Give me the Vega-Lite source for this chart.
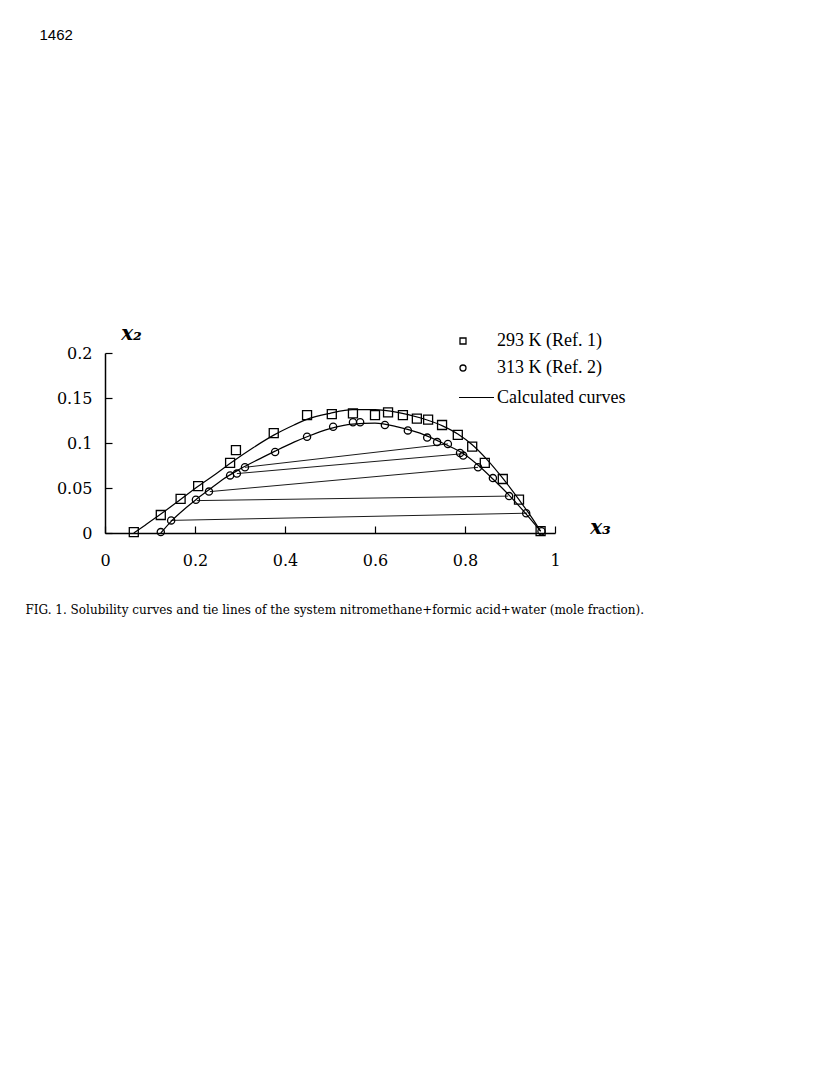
{
  "$schema": "https://vega.github.io/schema/vega-lite/v6.json",
  "width": 450,
  "height": 180,
  "autosize": {"type": "none"},
  "padding": {"left": 105, "top": 353, "right": 273, "bottom": 534},
  "background": "white",
  "datasets": {
    "curves": [
      {"x3": 0.064, "x2": 0.0, "T": "293 K", "kind": "Calculated curves"},
      {"x3": 0.09, "x2": 0.009, "T": "293 K", "kind": "Calculated curves"},
      {"x3": 0.124, "x2": 0.021, "T": "293 K", "kind": "Calculated curves"},
      {"x3": 0.167, "x2": 0.037, "T": "293 K", "kind": "Calculated curves"},
      {"x3": 0.207, "x2": 0.052, "T": "293 K", "kind": "Calculated curves"},
      {"x3": 0.25, "x2": 0.067, "T": "293 K", "kind": "Calculated curves"},
      {"x3": 0.28, "x2": 0.078, "T": "293 K", "kind": "Calculated curves"},
      {"x3": 0.33, "x2": 0.095, "T": "293 K", "kind": "Calculated curves"},
      {"x3": 0.376, "x2": 0.109, "T": "293 K", "kind": "Calculated curves"},
      {"x3": 0.42, "x2": 0.12, "T": "293 K", "kind": "Calculated curves"},
      {"x3": 0.447, "x2": 0.126, "T": "293 K", "kind": "Calculated curves"},
      {"x3": 0.5, "x2": 0.133, "T": "293 K", "kind": "Calculated curves"},
      {"x3": 0.55, "x2": 0.137, "T": "293 K", "kind": "Calculated curves"},
      {"x3": 0.6, "x2": 0.137, "T": "293 K", "kind": "Calculated curves"},
      {"x3": 0.65, "x2": 0.134, "T": "293 K", "kind": "Calculated curves"},
      {"x3": 0.7, "x2": 0.128, "T": "293 K", "kind": "Calculated curves"},
      {"x3": 0.75, "x2": 0.119, "T": "293 K", "kind": "Calculated curves"},
      {"x3": 0.784, "x2": 0.11, "T": "293 K", "kind": "Calculated curves"},
      {"x3": 0.816, "x2": 0.098, "T": "293 K", "kind": "Calculated curves"},
      {"x3": 0.85, "x2": 0.081, "T": "293 K", "kind": "Calculated curves"},
      {"x3": 0.882, "x2": 0.062, "T": "293 K", "kind": "Calculated curves"},
      {"x3": 0.92, "x2": 0.037, "T": "293 K", "kind": "Calculated curves"},
      {"x3": 0.95, "x2": 0.016, "T": "293 K", "kind": "Calculated curves"},
      {"x3": 0.968, "x2": 0.002, "T": "293 K", "kind": "Calculated curves"},
      {"x3": 0.124, "x2": 0.0, "T": "313 K", "kind": "Calculated curves"},
      {"x3": 0.147, "x2": 0.013, "T": "313 K", "kind": "Calculated curves"},
      {"x3": 0.18, "x2": 0.028, "T": "313 K", "kind": "Calculated curves"},
      {"x3": 0.202, "x2": 0.037, "T": "313 K", "kind": "Calculated curves"},
      {"x3": 0.231, "x2": 0.048, "T": "313 K", "kind": "Calculated curves"},
      {"x3": 0.26, "x2": 0.059, "T": "313 K", "kind": "Calculated curves"},
      {"x3": 0.3, "x2": 0.071, "T": "313 K", "kind": "Calculated curves"},
      {"x3": 0.35, "x2": 0.084, "T": "313 K", "kind": "Calculated curves"},
      {"x3": 0.378, "x2": 0.091, "T": "313 K", "kind": "Calculated curves"},
      {"x3": 0.42, "x2": 0.101, "T": "313 K", "kind": "Calculated curves"},
      {"x3": 0.449, "x2": 0.107, "T": "313 K", "kind": "Calculated curves"},
      {"x3": 0.5, "x2": 0.116, "T": "313 K", "kind": "Calculated curves"},
      {"x3": 0.55, "x2": 0.121, "T": "313 K", "kind": "Calculated curves"},
      {"x3": 0.6, "x2": 0.122, "T": "313 K", "kind": "Calculated curves"},
      {"x3": 0.65, "x2": 0.118, "T": "313 K", "kind": "Calculated curves"},
      {"x3": 0.7, "x2": 0.111, "T": "313 K", "kind": "Calculated curves"},
      {"x3": 0.75, "x2": 0.1, "T": "313 K", "kind": "Calculated curves"},
      {"x3": 0.8, "x2": 0.087, "T": "313 K", "kind": "Calculated curves"},
      {"x3": 0.83, "x2": 0.075, "T": "313 K", "kind": "Calculated curves"},
      {"x3": 0.862, "x2": 0.06, "T": "313 K", "kind": "Calculated curves"},
      {"x3": 0.9, "x2": 0.041, "T": "313 K", "kind": "Calculated curves"},
      {"x3": 0.936, "x2": 0.021, "T": "313 K", "kind": "Calculated curves"},
      {"x3": 0.968, "x2": 0.002, "T": "313 K", "kind": "Calculated curves"}
    ],
    "points": [
      {"x3": 0.064, "x2": 0.001, "series": "293 K (Ref. 1)"},
      {"x3": 0.124, "x2": 0.02, "series": "293 K (Ref. 1)"},
      {"x3": 0.168, "x2": 0.038, "series": "293 K (Ref. 1)"},
      {"x3": 0.207, "x2": 0.052, "series": "293 K (Ref. 1)"},
      {"x3": 0.278, "x2": 0.078, "series": "293 K (Ref. 1)"},
      {"x3": 0.291, "x2": 0.092, "series": "293 K (Ref. 1)"},
      {"x3": 0.375, "x2": 0.111, "series": "293 K (Ref. 1)"},
      {"x3": 0.449, "x2": 0.131, "series": "293 K (Ref. 1)"},
      {"x3": 0.504, "x2": 0.132, "series": "293 K (Ref. 1)"},
      {"x3": 0.551, "x2": 0.133, "series": "293 K (Ref. 1)"},
      {"x3": 0.6, "x2": 0.131, "series": "293 K (Ref. 1)"},
      {"x3": 0.629, "x2": 0.134, "series": "293 K (Ref. 1)"},
      {"x3": 0.662, "x2": 0.131, "series": "293 K (Ref. 1)"},
      {"x3": 0.693, "x2": 0.127, "series": "293 K (Ref. 1)"},
      {"x3": 0.718, "x2": 0.126, "series": "293 K (Ref. 1)"},
      {"x3": 0.749, "x2": 0.12, "series": "293 K (Ref. 1)"},
      {"x3": 0.784, "x2": 0.109, "series": "293 K (Ref. 1)"},
      {"x3": 0.816, "x2": 0.096, "series": "293 K (Ref. 1)"},
      {"x3": 0.844, "x2": 0.078, "series": "293 K (Ref. 1)"},
      {"x3": 0.884, "x2": 0.06, "series": "293 K (Ref. 1)"},
      {"x3": 0.92, "x2": 0.037, "series": "293 K (Ref. 1)"},
      {"x3": 0.968, "x2": 0.002, "series": "293 K (Ref. 1)"},
      {"x3": 0.124, "x2": 0.001, "series": "313 K (Ref. 2)"},
      {"x3": 0.147, "x2": 0.014, "series": "313 K (Ref. 2)"},
      {"x3": 0.202, "x2": 0.037, "series": "313 K (Ref. 2)"},
      {"x3": 0.231, "x2": 0.046, "series": "313 K (Ref. 2)"},
      {"x3": 0.278, "x2": 0.064, "series": "313 K (Ref. 2)"},
      {"x3": 0.293, "x2": 0.066, "series": "313 K (Ref. 2)"},
      {"x3": 0.311, "x2": 0.073, "series": "313 K (Ref. 2)"},
      {"x3": 0.378, "x2": 0.09, "series": "313 K (Ref. 2)"},
      {"x3": 0.449, "x2": 0.107, "series": "313 K (Ref. 2)"},
      {"x3": 0.507, "x2": 0.118, "series": "313 K (Ref. 2)"},
      {"x3": 0.551, "x2": 0.123, "series": "313 K (Ref. 2)"},
      {"x3": 0.567, "x2": 0.123, "series": "313 K (Ref. 2)"},
      {"x3": 0.622, "x2": 0.12, "series": "313 K (Ref. 2)"},
      {"x3": 0.673, "x2": 0.114, "series": "313 K (Ref. 2)"},
      {"x3": 0.716, "x2": 0.106, "series": "313 K (Ref. 2)"},
      {"x3": 0.738, "x2": 0.101, "series": "313 K (Ref. 2)"},
      {"x3": 0.762, "x2": 0.099, "series": "313 K (Ref. 2)"},
      {"x3": 0.789, "x2": 0.089, "series": "313 K (Ref. 2)"},
      {"x3": 0.796, "x2": 0.086, "series": "313 K (Ref. 2)"},
      {"x3": 0.829, "x2": 0.073, "series": "313 K (Ref. 2)"},
      {"x3": 0.862, "x2": 0.061, "series": "313 K (Ref. 2)"},
      {"x3": 0.898, "x2": 0.041, "series": "313 K (Ref. 2)"},
      {"x3": 0.936, "x2": 0.022, "series": "313 K (Ref. 2)"},
      {"x3": 0.97, "x2": 0.002, "series": "313 K (Ref. 2)"}
    ],
    "ties": [
      {"x3_a": 0.311, "x2_a": 0.073, "x3_b": 0.762, "x2_b": 0.099},
      {"x3_a": 0.293, "x2_a": 0.066, "x3_b": 0.793, "x2_b": 0.088},
      {"x3_a": 0.233, "x2_a": 0.046, "x3_b": 0.829, "x2_b": 0.073},
      {"x3_a": 0.204, "x2_a": 0.036, "x3_b": 0.896, "x2_b": 0.041},
      {"x3_a": 0.146, "x2_a": 0.014, "x3_b": 0.938, "x2_b": 0.022}
    ]
  },
  "layer": [
    {
      "layer": [
        {
          "data": {"name": "curves"},
          "mark": {"type": "line", "interpolate": "monotone", "strokeWidth": 1.2},
          "encoding": {
            "x": {
              "field": "x3", "type": "quantitative",
              "scale": {"domain": [0, 1], "nice": false, "zero": false},
              "axis": {
                "values": [0, 0.2, 0.4, 0.6, 0.8, 1], "format": "~g", "grid": false,
                "labelFont": "DejaVu Serif", "labelFontSize": 16, "labelColor": "black",
                "labelFlush": false,
                "labelPadding": 26, "tickSize": -7, "tickWidth": 1.2, "tickColor": "black",
                "domainColor": "black", "domainWidth": 1.5,
                "title": "x₃", "titleFont": "DejaVu Serif", "titleFontStyle": "italic",
                "titleFontWeight": "bold", "titleFontSize": 20, "titleColor": "black",
                "titleAngle": 0, "titleX": 495, "titleY": -6, "titleAlign": "center",
                "titleBaseline": "middle"
              }
            },
            "y": {
              "field": "x2", "type": "quantitative",
              "scale": {"domain": [0, 0.2], "nice": false, "zero": false},
              "axis": {
                "values": [0, 0.05, 0.1, 0.15, 0.2], "format": "~g", "grid": false,
                "labelFont": "DejaVu Serif", "labelFontSize": 16, "labelColor": "black",
                "labelFlush": false,
                "labelPadding": 20, "tickSize": -7, "tickWidth": 1.2, "tickColor": "black",
                "domainColor": "black", "domainWidth": 1.5,
                "title": "x₂", "titleFont": "DejaVu Serif", "titleFontStyle": "italic",
                "titleFontWeight": "bold", "titleFontSize": 20, "titleColor": "black",
                "titleAngle": 0, "titleX": 26, "titleY": -20, "titleAlign": "center",
                "titleBaseline": "middle"
              }
            },
            "detail": {"field": "T", "type": "nominal"},
            "color": {
              "field": "kind", "type": "nominal",
              "scale": {"range": ["black"]},
              "legend": {
                "title": null, "orient": "none", "legendX": 353, "legendY": 26,
                "symbolType": "stroke", "symbolSize": 1225, "symbolStrokeWidth": 1.2,
                "labelFont": "Liberation Serif", "labelFontSize": 18, "labelColor": "black",
                "labelOffset": 2, "padding": 0
              }
            }
          }
        },
        {
          "data": {"name": "points"},
          "transform": [{"filter": "datum.series === '293 K (Ref. 1)'"}],
          "mark": {"type": "point", "filled": false, "color": "black", "strokeWidth": 1.3, "opacity": 1, "size": 81},
          "encoding": {
            "x": {"field": "x3", "type": "quantitative"},
            "y": {"field": "x2", "type": "quantitative"},
            "shape": {
              "field": "series", "type": "nominal",
              "scale": {"domain": ["293 K (Ref. 1)", "313 K (Ref. 2)"], "range": ["square", "circle"]},
              "legend": {
                "title": null, "orient": "none", "legendX": 349, "legendY": -21,
                "symbolSize": 36, "symbolStrokeColor": "black", "symbolStrokeWidth": 1.3,
                "symbolFillColor": "white",
                "labelFont": "Liberation Serif", "labelFontSize": 18, "labelColor": "black",
                "labelOffset": 25, "rowPadding": 9, "padding": 0
              }
            }
          }
        },
        {
          "data": {"name": "points"},
          "transform": [{"filter": "datum.series === '313 K (Ref. 2)'"}],
          "mark": {"type": "point", "filled": false, "color": "black", "strokeWidth": 1.3, "opacity": 1, "size": 52},
          "encoding": {
            "x": {"field": "x3", "type": "quantitative"},
            "y": {"field": "x2", "type": "quantitative"},
            "shape": {"field": "series", "type": "nominal"}
          }
        }
      ]
    },
    {
      "data": {"name": "ties"},
      "mark": {"type": "rule", "color": "black", "strokeWidth": 0.9},
      "encoding": {
        "x": {
          "field": "x3_a", "type": "quantitative",
          "scale": {"domain": [0, 1], "nice": false, "zero": false},
          "axis": {
            "orient": "top", "labels": false, "ticks": false, "domain": false, "grid": false,
            "title": "1462", "titleFont": "Liberation Sans", "titleFontSize": 15,
            "titleFontWeight": "normal", "titleColor": "black", "titleAngle": 0,
            "titleX": -66, "titleY": -319, "titleAlign": "left", "titleBaseline": "middle"
          }
        },
        "y": {
          "field": "x2_a", "type": "quantitative",
          "scale": {"domain": [0, 0.2], "nice": false, "zero": false},
          "axis": {
            "orient": "right", "labels": false, "ticks": false, "domain": false, "grid": false,
            "title": "FIG. 1. Solubility curves and tie lines of the system nitromethane+formic acid+water (mole fraction).",
            "titleFont": "DejaVu Serif", "titleFontSize": 12, "titleFontWeight": "normal",
            "titleColor": "black", "titleAngle": 0, "titleX": -530, "titleY": 256,
            "titleAlign": "left", "titleBaseline": "middle", "titleLimit": 1000
          }
        },
        "x2": {"field": "x3_b"},
        "y2": {"field": "x2_b"}
      }
    }
  ],
  "resolve": {"scale": {"x": "independent", "y": "independent"}, "axis": {"x": "independent", "y": "independent"}},
  "config": {"view": {"stroke": null}}
}
